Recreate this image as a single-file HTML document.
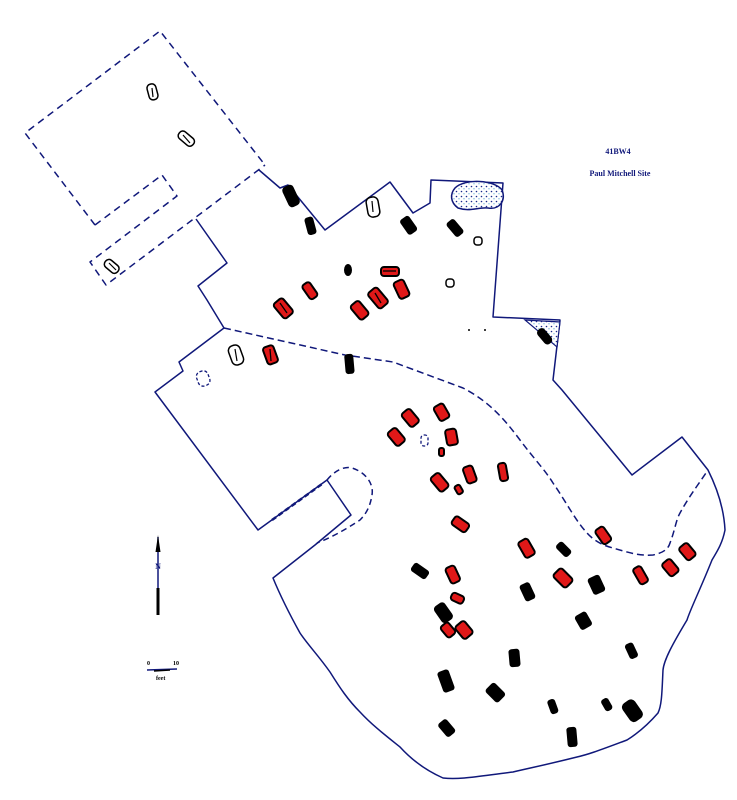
<!DOCTYPE html>
<html><head><meta charset="utf-8"><style>html,body{margin:0;padding:0;background:#fff}svg{display:block}</style></head>
<body>
<svg width="737" height="800" viewBox="0 0 737 800" xmlns="http://www.w3.org/2000/svg">
<defs>
<pattern id="st" width="5" height="5" patternUnits="userSpaceOnUse"><rect width="5" height="5" fill="#fff"/><circle cx="1.5" cy="1.5" r="0.8" fill="#1a2a8a"/><circle cx="4" cy="3.8" r="0.6" fill="#49c"/></pattern>
</defs>
<g fill="none" stroke="#10187a" stroke-width="1.5" stroke-linejoin="round">
<path d="M95,225 L25,133 L160,31 L265,165" stroke-dasharray="7,5"/>
<path d="M95,225 L162,175 L177,196 L90,262 L106,285 L265,165" stroke-dasharray="7,5"/>
<path d="M259,170 L280,188 L288,185 L325,230 L390,182 L413,213 L430,203 L431,180 L503,183 L493,317 L560,320 L553,380 L562,390 L632,475 L682,437 L708,470 C718,490 724,510 725,530 C722,545 716,553 712,560 C700,590 690,610 687,620 C672,645 664,660 663,670 C662,690 662,705 658,713 C645,728 635,735 627,740 C600,750 590,754 577,757 C545,765 530,768 513,772 C480,776 460,780 443,778 C425,770 410,758 400,747 C385,735 372,725 360,712 C348,700 340,688 330,672 C318,655 308,645 300,633 C290,615 280,595 273,578 L315,545 L351,515 L327,480 L258,530 L155,392 L183,371 L179,362 L224,328 L207,300 L198,286 L227,263 L196,219"/>
<path d="M224,328 L345,355 L393,362 L463,388 C490,402 505,420 520,440 C535,460 545,470 553,483 C565,500 575,520 587,533 C595,542 605,546 613,548 C630,553 640,556 653,555 C662,553 668,550 670,543 C675,530 676,520 680,513 C690,495 698,485 708,470" stroke-dasharray="7,4"/>
<path d="M327,480 C335,470 345,466 352,468 C365,472 374,483 372,495 C370,508 365,515 360,520 C345,530 330,538 317,543" stroke-dasharray="6,4"/>
<path d="M272,520 L322,484" stroke-dasharray="5,3" stroke-width="2.5"/>
</g>
<path d="M455,188 C465,178 495,180 502,190 C506,200 500,210 488,208 C478,207 470,212 458,208 C450,202 450,194 455,188 Z" fill="url(#st)" stroke="#10187a" stroke-width="1.5"/>
<path d="M525,320 L560,322 L557,347 Z" fill="url(#st)" stroke="#10187a" stroke-width="1.2"/>
<rect x="540" y="327" width="9" height="18" rx="4" fill="#000" transform="rotate(-40 545 336)"/>
<g fill="#fff" stroke="#000" stroke-width="1.5">
<rect x="148" y="84" width="9" height="16" rx="4" transform="rotate(-15 152 92)"/>
<rect x="182" y="130" width="9" height="18" rx="4" transform="rotate(-50 186 139)"/>
<rect x="367" y="197" width="12" height="20" rx="5" transform="rotate(-10 373 207)"/>
<rect x="230" y="345" width="12" height="20" rx="5" transform="rotate(-20 236 355)"/>
<rect x="107" y="258" width="9" height="16" rx="4" transform="rotate(-50 112 266)"/>
<rect x="474" y="237" width="8" height="8" rx="3"/>
<rect x="446" y="279" width="8" height="8" rx="3"/>
</g>
<g stroke="#000" stroke-width="1.2">
<line x1="152" y1="88" x2="153" y2="97"/><line x1="183" y1="135" x2="190" y2="143"/><line x1="372" y1="201" x2="373" y2="212"/><line x1="235" y1="349" x2="237" y2="361"/><line x1="109" y1="263" x2="116" y2="270"/>
</g>
<g fill="none" stroke="#10187a" stroke-width="1.3" stroke-dasharray="3,2">
<rect x="197" y="371" width="12" height="15" rx="5" transform="rotate(-20 203 378)"/>
<rect x="421" y="435" width="7" height="11" rx="3"/>
</g>
<g fill="#e01818" stroke="#000" stroke-width="2">
<rect x="277" y="299" width="12" height="19" rx="3" transform="rotate(-40 283 308)"/>
<rect x="305" y="282" width="9" height="17" rx="3" transform="rotate(-35 310 290)"/>
<rect x="381" y="267" width="18" height="9" rx="3"/>
<rect x="396" y="280" width="11" height="18" rx="3" transform="rotate(-25 402 289)"/>
<rect x="354" y="301" width="11" height="18" rx="3" transform="rotate(-40 360 310)"/>
<rect x="372" y="288" width="12" height="20" rx="3" transform="rotate(-40 378 298)"/>
<rect x="265" y="346" width="11" height="18" rx="3" transform="rotate(-20 270 355)"/>
<rect x="391" y="428" width="11" height="17" rx="3" transform="rotate(-40 397 437)"/>
<rect x="405" y="409" width="11" height="17" rx="3" transform="rotate(-40 411 418)"/>
<rect x="436" y="404" width="11" height="16" rx="3" transform="rotate(-30 442 412)"/>
<rect x="446" y="429" width="11" height="16" rx="3" transform="rotate(-10 452 437)"/>
<rect x="439" y="448" width="5" height="8" rx="2"/>
<rect x="434" y="473" width="11" height="18" rx="3" transform="rotate(-40 440 482)"/>
<rect x="465" y="466" width="10" height="17" rx="3" transform="rotate(-20 470 475)"/>
<rect x="456" y="485" width="6" height="9" rx="2" transform="rotate(-30 459 490)"/>
<rect x="499" y="463" width="8" height="18" rx="3" transform="rotate(-10 503 472)"/>
<rect x="455" y="516" width="10" height="17" rx="3" transform="rotate(-55 460 524)"/>
<rect x="598" y="527" width="10" height="17" rx="3" transform="rotate(-35 603 535)"/>
<rect x="521" y="539" width="11" height="18" rx="3" transform="rotate(-30 527 548)"/>
<rect x="557" y="569" width="12" height="18" rx="3" transform="rotate(-45 563 578)"/>
<rect x="448" y="566" width="10" height="17" rx="3" transform="rotate(-25 453 575)"/>
<rect x="453" y="592" width="8" height="13" rx="3" transform="rotate(-65 457 598)"/>
<rect x="636" y="566" width="9" height="18" rx="3" transform="rotate(-30 641 575)"/>
<rect x="665" y="560" width="11" height="16" rx="3" transform="rotate(-40 670 568)"/>
<rect x="682" y="544" width="11" height="16" rx="3" transform="rotate(-40 687 552)"/>
<rect x="443" y="623" width="10" height="14" rx="3" transform="rotate(-40 448 630)"/>
<rect x="458" y="622" width="12" height="16" rx="3" transform="rotate(-40 464 630)"/>
</g>
<g stroke="#000" stroke-width="1.3">
<line x1="280" y1="303" x2="287" y2="313"/><line x1="375" y1="293" x2="381" y2="303"/><line x1="383" y1="271" x2="396" y2="271"/><line x1="270" y1="349" x2="271" y2="361"/>
</g>
<g fill="#000">
<rect x="285" y="185" width="12" height="22" rx="4" transform="rotate(-25 291 196)"/>
<rect x="306" y="217" width="9" height="18" rx="3" transform="rotate(-15 310 226)"/>
<ellipse cx="348" cy="270" rx="4" ry="6"/>
<rect x="403" y="216" width="11" height="18" rx="3" transform="rotate(-35 409 225)"/>
<rect x="450" y="219" width="10" height="18" rx="3" transform="rotate(-40 455 228)"/>
<rect x="345" y="354" width="9" height="20" rx="3" transform="rotate(-5 349 365)"/>
<rect x="415" y="562" width="10" height="18" rx="3" transform="rotate(-55 420 571)"/>
<rect x="559" y="541" width="9" height="16" rx="3" transform="rotate(-45 564 549)"/>
<rect x="522" y="583" width="11" height="18" rx="3" transform="rotate(-25 527 592)"/>
<rect x="590" y="576" width="13" height="18" rx="3" transform="rotate(-25 596 585)"/>
<rect x="437" y="603" width="13" height="20" rx="4" transform="rotate(-35 443 613)"/>
<rect x="577" y="613" width="13" height="16" rx="3" transform="rotate(-30 583 621)"/>
<rect x="509" y="649" width="11" height="18" rx="3" transform="rotate(-5 514 658)"/>
<rect x="627" y="643" width="9" height="16" rx="3" transform="rotate(-25 631 651)"/>
<rect x="440" y="670" width="12" height="22" rx="3" transform="rotate(-20 446 681)"/>
<rect x="489" y="684" width="13" height="18" rx="3" transform="rotate(-45 495 693)"/>
<rect x="549" y="699" width="8" height="15" rx="3" transform="rotate(-20 553 707)"/>
<rect x="603" y="698" width="8" height="13" rx="3" transform="rotate(-30 607 705)"/>
<rect x="625" y="700" width="15" height="22" rx="5" transform="rotate(-35 632 711)"/>
<rect x="441" y="720" width="11" height="17" rx="3" transform="rotate(-40 446 728)"/>
<rect x="567" y="727" width="10" height="20" rx="3" transform="rotate(-5 572 737)"/>
</g>
<g fill="#000"><circle cx="469" cy="330" r="1"/><circle cx="485" cy="330" r="1"/></g>
<text x="618" y="154" font-family="Liberation Serif, serif" font-size="8" font-weight="bold" text-anchor="middle" fill="#10187a">41BW4</text>
<text x="620" y="176" font-family="Liberation Serif, serif" font-size="8" font-weight="bold" text-anchor="middle" fill="#10187a">Paul Mitchell Site</text>
<line x1="158" y1="537" x2="158" y2="615" stroke="#10187a" stroke-width="1.5"/>
<line x1="158" y1="588" x2="158" y2="615" stroke="#000" stroke-width="3"/>
<path d="M158,535 L155.5,552 L160.5,552 Z" fill="#000"/>
<text x="158" y="569" font-family="Liberation Serif, serif" font-size="8" font-weight="bold" text-anchor="middle" fill="#10187a">N</text>
<text x="147" y="665" font-family="Liberation Serif, serif" font-size="6" font-weight="bold" fill="#000">0</text>
<text x="173" y="665" font-family="Liberation Serif, serif" font-size="6" font-weight="bold" fill="#000">10</text>
<path d="M147,670 L177,669" stroke="#10187a" stroke-width="1.5"/>
<path d="M154,671 L170,670" stroke="#000" stroke-width="1.5"/>
<text x="156" y="680" font-family="Liberation Serif, serif" font-size="6" font-weight="bold" fill="#000">feet</text>
</svg>
</body></html>
